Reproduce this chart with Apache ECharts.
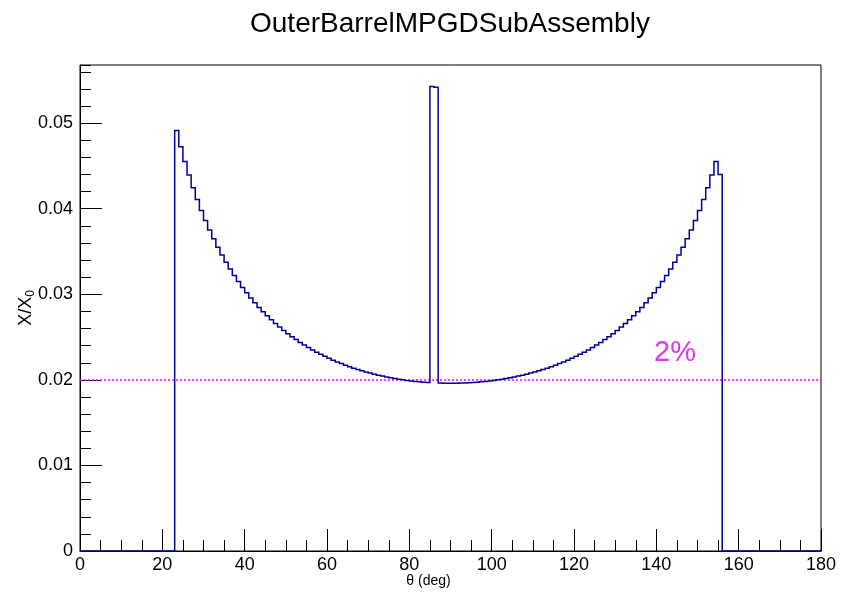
<!DOCTYPE html>
<html>
<head>
<meta charset="utf-8">
<script src="https://cdn.jsdelivr.net/npm/echarts@6/dist/echarts.min.js"></script>
<style>html,body{margin:0;padding:0;background:#fff;}#c{width:856px;height:597px;}</style>
</head>
<body>
<div id="c"></div>
<script>
// Histogram definition: 180 bins of 1 degree from 0 to 180
const binLow = 0;
const binWidth = 1;
// X/X0 per bin (bins 0..179)
const binValues = [
  0,0,0,0,0,0,0,0,0,0, 0,0,0,0,0,0,0,0,0,0, 0,0,0,
  0.04915,0.04726,0.04553,0.04393,0.04245,0.04108,0.03980,
  0.03862,0.03751,0.03648,0.03551,0.03460,0.03375,0.03295,0.03220,0.03149,0.03081,
  0.03018,0.02958,0.02901,0.02847,0.02796,0.02748,0.02702,0.02658,0.02617,0.02578,
  0.02540,0.02504,0.02471,0.02438,0.02408,0.02378,0.02350,0.02324,0.02299,0.02275,
  0.02252,0.02230,0.02210,0.02190,0.02172,0.02154,0.02137,0.02121,0.02107,0.02092,
  0.02079,0.02067,0.02055,0.02044,0.02034,0.02024,0.02016,0.02008,0.02000,0.01993,
  0.01987,0.01982,0.01977,0.01973,0.01969,0.05430,0.05420,0.01962,0.01961,0.01960,
  0.01960,0.01961,0.01962,0.01964,0.01966,0.01969,0.01973,0.01977,0.01982,0.01987,
  0.01993,0.02000,0.02008,0.02016,0.02024,0.02034,0.02044,0.02055,0.02067,0.02079,
  0.02092,0.02107,0.02121,0.02137,0.02154,0.02172,0.02190,0.02210,0.02230,0.02252,
  0.02275,0.02299,0.02324,0.02350,0.02378,0.02408,0.02438,0.02471,0.02504,0.02540,
  0.02578,0.02617,0.02658,0.02702,0.02748,0.02796,0.02847,0.02901,0.02958,0.03018,
  0.03081,0.03149,0.03220,0.03295,0.03375,0.03460,0.03551,0.03648,0.03751,0.03862,
  0.03980,0.04108,0.04245,0.04393,0.04553,0.04400,
  0,0,0,0,0,0,0,0,0,0, 0,0,0,0,0,0,0,0,0,0, 0,0,0,0
];
const refLevel = 0.02;
const refLabel = '2%';
const titleText = 'OuterBarrelMPGDSubAssembly';
const xTitle = 'θ (deg)';
const xMin = 0, xMax = 180, xStep = 20;
const yMin = 0, yMax = 0.0568, yStep = 0.01, yMinorStep = 0.002;

// one data row per bin: [low edge, high edge, value]
const binData = binValues.map((v, i) => [binLow + i * binWidth, binLow + (i + 1) * binWidth, v]);

const FONT = '"Liberation Sans", Arial, Helvetica, sans-serif';
const chart = echarts.init(document.getElementById('c'), null, {renderer: 'canvas'});

function renderHist(params, api) {
  if (params.dataIndex !== 0) return null;
  const pts = [];
  let prev = 0;
  for (let i = 0; i < binData.length; i++) {
    const [lo, hi, v] = binData[i];
    pts.push(api.coord([lo, prev]));
    pts.push(api.coord([lo, v]));
    if (i === binData.length - 1) pts.push(api.coord([hi, v]));
    prev = v;
  }
  return {
    type: 'polyline',
    shape: {points: pts},
    style: {stroke: '#000099', lineWidth: 1.5, fill: null, lineJoin: 'miter'},
    z2: 10
  };
}

chart.setOption({
  animation: false,
  backgroundColor: '#fff',
  grid: {left: 80, right: 35, top: 65, bottom: 46, show: true, borderColor: '#000', borderWidth: 1, backgroundColor: 'transparent'},
  graphic: [
    {type: 'text', left: 450 - 200, top: 10, style: {text: titleText, font: '28px ' + FONT, fill: '#000'}},
    {type: 'text', left: 654, top: 338, style: {text: refLabel, font: '29px ' + FONT, fill: '#e633e6'}}
  ],
  xAxis: {
    type: 'value', min: xMin, max: xMax, interval: xStep,
    name: xTitle, nameLocation: 'middle', nameGap: 23, nameMoveOverlap: false,
    nameTextStyle: {fontFamily: FONT, fontSize: 14, color: '#000', padding: [0, 44, 0, 0]},
    axisLine: {show: true, lineStyle: {color: '#000', width: 1}},
    axisTick: {show: true, inside: true, length: 22, lineStyle: {color: '#000', width: 1}},
    minorTick: {show: true, splitNumber: 4, length: 11, lineStyle: {color: '#000', width: 1}},
    axisLabel: {fontFamily: FONT, fontSize: 18, color: '#000', margin: 5},
    splitLine: {show: false}
  },
  yAxis: [
    {
      type: 'value', min: yMin, max: yMax, interval: yStep, position: 'left',
      name: 'X/X{sub|0}', nameLocation: 'middle', nameGap: 43, nameRotate: 90, nameMoveOverlap: false,
      nameTextStyle: {fontFamily: FONT, fontSize: 18, color: '#000',
        rich: {sub: {fontFamily: FONT, fontSize: 12, color: '#000', padding: [9, 0, 0, 0]}}},
      axisLine: {show: true, lineStyle: {color: '#000', width: 1}},
      axisTick: {show: true, inside: true, length: 22, lineStyle: {color: '#000', width: 1}},
      axisLabel: {fontFamily: FONT, fontSize: 18, color: '#000', margin: 7, showMaxLabel: false,
        formatter: v => v === 0 ? '0' : v.toFixed(2)},
      splitLine: {show: false}
    },
    {
      type: 'value', min: yMin, max: yMax, interval: yMinorStep, position: 'left', offset: 0,
      axisLine: {show: false},
      axisTick: {show: true, inside: true, length: 11, lineStyle: {color: '#000', width: 1}},
      axisLabel: {show: false},
      splitLine: {show: false}
    }
  ],
  series: [
    {
      type: 'custom', renderItem: renderHist, data: binData,
      encode: {x: [0, 1], y: 2}, clip: false, z: 5,
      markLine: {
        silent: true, symbol: 'none', label: {show: false},
        lineStyle: {color: '#ff00ff', width: 1.5, type: [2, 2]},
        data: [{yAxis: refLevel}]
      }
    }
  ]
});
</script>
</body>
</html>
